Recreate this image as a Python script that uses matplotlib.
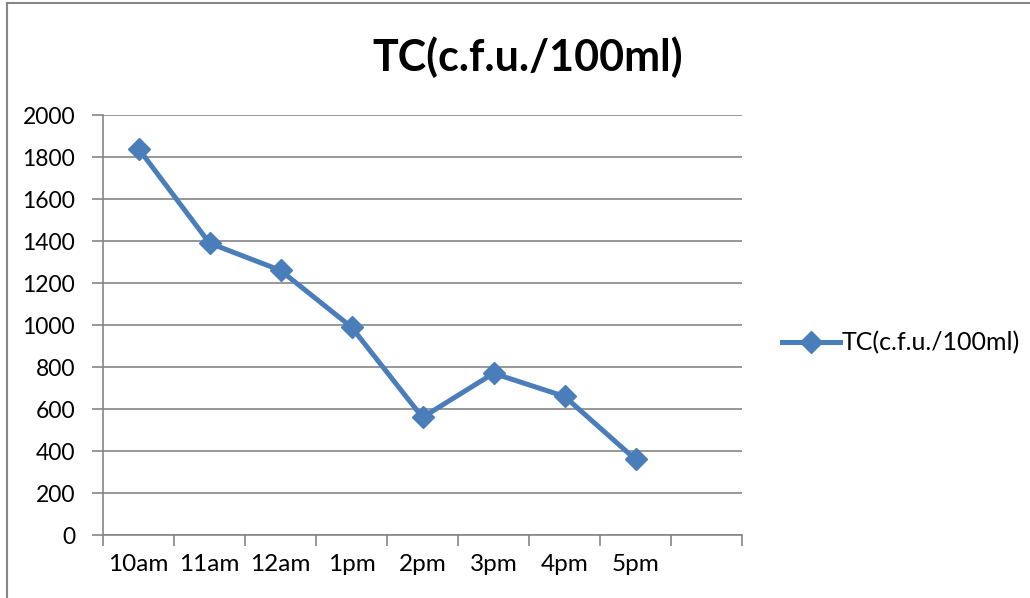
import matplotlib
matplotlib.use("Agg")
import matplotlib.pyplot as plt
from matplotlib.lines import Line2D

categories = ["10am", "11am", "12am", "1pm", "2pm", "3pm", "4pm", "5pm"]
values = [1840, 1390, 1260, 990, 560, 770, 660, 360]
series_name = "TC(c.f.u./100ml)"
yticks = [0, 200, 400, 600, 800, 1000, 1200, 1400, 1600, 1800, 2000]

W, H = 1030, 598
fig = plt.figure(figsize=(W / 100, H / 100), dpi=100)
plt.rcParams['font.family'] = ['Lato', 'DejaVu Sans']

left, right, top, bottom = 103, 742, 115, 535
ax = fig.add_axes([left / W, 1 - bottom / H, (right - left) / W, (bottom - top) / H])

n_slots = 9
xs = [i + 0.5 for i in range(len(categories))]
blue = "#4A7EBB"
line, = ax.plot(xs, values, color=blue, lw=3.6, marker="D", markersize=11.5,
                markeredgecolor=blue, markerfacecolor=blue, label=series_name,
                solid_joinstyle="round", clip_on=False)

ax.set_xlim(0, n_slots)
ax.set_ylim(0, 2000)
ax.set_yticks(yticks)
ax.set_yticklabels([str(v) for v in yticks], fontsize=16.5)
ax.set_xticks(range(n_slots + 1))
ax.set_xticklabels([])
ax.set_xticks(xs, minor=True)
ax.set_xticklabels(categories, minor=True, fontsize=17.5)
ax.tick_params(axis="x", which="minor", length=0, pad=14)
ax.tick_params(axis="x", which="major", length=8, color="#868686", width=1.2)
ax.tick_params(axis="y", length=8, color="#868686", width=1.2, pad=12)

ax.grid(axis="y", color="#868686", lw=1.2)
ax.set_axisbelow(True)
for s in ["top", "right"]:
    ax.spines[s].set_visible(False)
for s in ["left", "bottom"]:
    ax.spines[s].set_color("#868686")
    ax.spines[s].set_linewidth(1.2)

fig.text(528 / W, 1 - 57 / H, series_name, fontsize=31, fontweight="bold",
         ha="center", va="center")

leg = fig.legend(handles=[line], loc="center left", bbox_to_anchor=(782 / W, 1 - 343 / H),
                 frameon=False, fontsize=18, handlelength=2.3, handletextpad=0.1,
                 borderaxespad=0, borderpad=0)

fig.add_artist(Line2D([7 / W, 7 / W], [0, 1 - 3 / H], color="#868686", lw=1.5))
fig.add_artist(Line2D([7 / W, 1], [1 - 3 / H, 1 - 3 / H], color="#868686", lw=1.5))

fig.savefig("out.png", dpi=100)
